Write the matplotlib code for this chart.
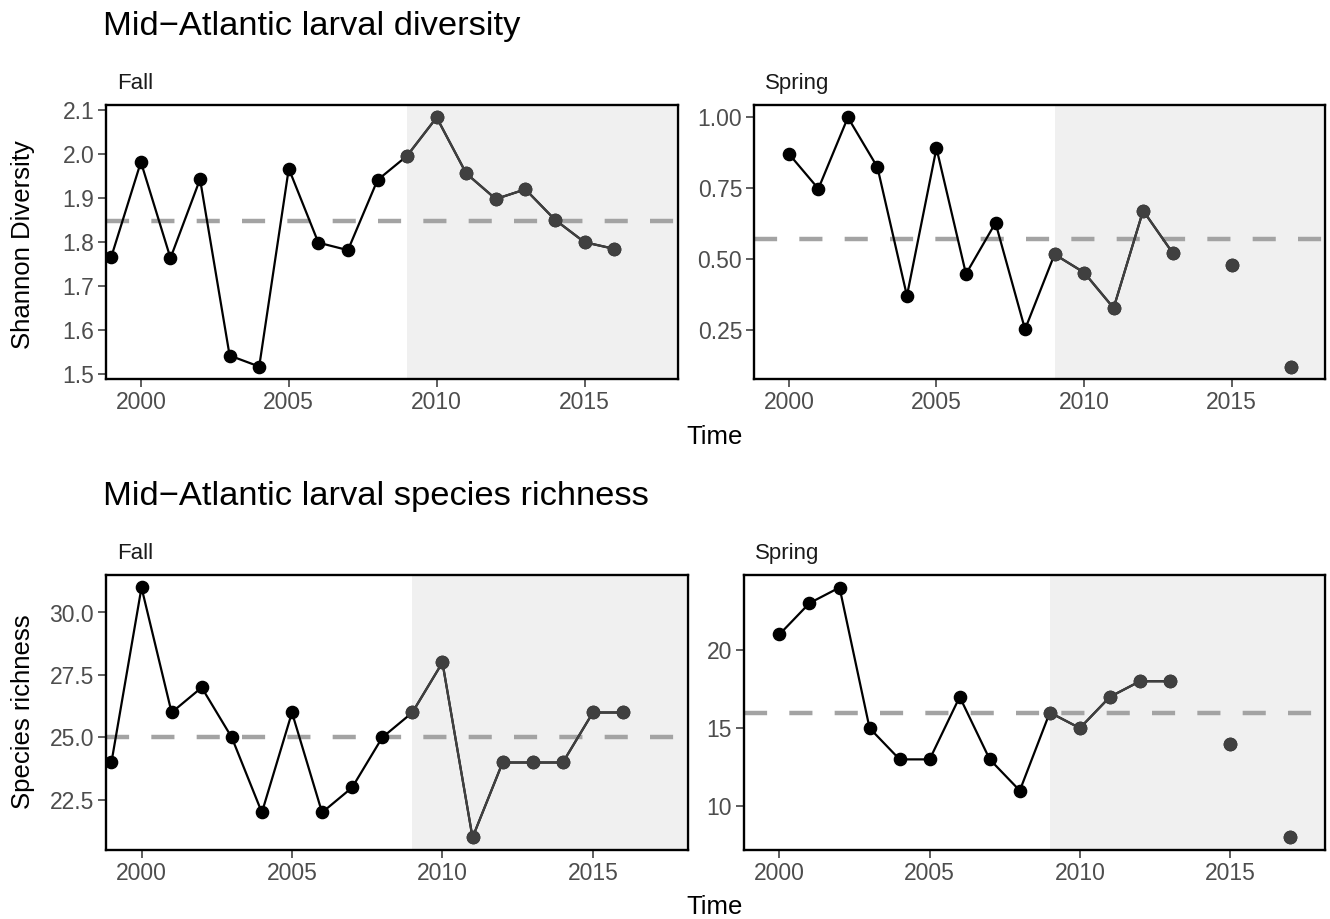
import numpy as np
import matplotlib
matplotlib.use("Agg")
import matplotlib.pyplot as plt

plt.rcParams['font.family'] = ['Liberation Sans', 'DejaVu Sans']

# data
years_fall = list(range(1999, 2017))
div_fall = [1.766, 1.981, 1.763, 1.942, 1.542, 1.517, 1.966, 1.798, 1.781,
            1.940, 1.995, 2.082, 1.955, 1.897, 1.919, 1.850, 1.799, 1.784]
rich_fall = [24, 31, 26, 27, 25, 22, 26, 22, 23, 25, 26, 28, 21, 24, 24, 24, 26, 26]

years_spring = list(range(2000, 2018))
div_spring = [0.871, 0.748, 0.999, 0.824, 0.371, 0.891, 0.448, 0.628, 0.253,
              0.517, 0.453, 0.328, 0.671, 0.522, np.nan, 0.479, np.nan, 0.122]
rich_spring = [21, 23, 24, 15, 13, 13, 17, 13, 11, 16, 15, 17, 18, 18,
               np.nan, 14, np.nan, 8]

div_mean = {'Fall': 1.848, 'Spring': 0.571}
rich_mean = {'Fall': 25.0, 'Spring': 16.0}

div_ticks = {'Fall': ([1.5, 1.6, 1.7, 1.8, 1.9, 2.0, 2.1],
                      ['1.5', '1.6', '1.7', '1.8', '1.9', '2.0', '2.1']),
             'Spring': ([0.25, 0.50, 0.75, 1.00], ['0.25', '0.50', '0.75', '1.00'])}
rich_ticks = {'Fall': ([22.5, 25.0, 27.5, 30.0], ['22.5', '25.0', '27.5', '30.0']),
              'Spring': ([10, 15, 20], ['10', '15', '20'])}

W, H = 1330, 919
fig = plt.figure(figsize=(W / 100, H / 100), dpi=100)


def px_axes(l, r, t, b):
    return fig.add_axes([l / W, 1 - b / H, (r - l) / W, (b - t) / H])


def panel(ax, x, y, mean, ticks, label, strip_y):
    x = np.array(x, dtype=float)
    y = np.array(y, dtype=float)
    ax.axvspan(2009, 2018.1, color='#f0f0f0', lw=0, zorder=0)
    ax.axhline(mean, color='#a3a3a3', lw=3.2, dashes=(5.2, 5.0), zorder=1)
    ax.plot(x, y, color='black', lw=1.6, zorder=2)
    ax.plot(x, y, 'o', color='black', ms=8.8, zorder=3)
    rec = x >= 2009
    ax.plot(x[rec], y[rec], color='#404040', lw=1.6, zorder=4)
    ax.plot(x[rec], y[rec], 'o', color='#404040', ms=8.8, zorder=5)
    ax.set_xlim(1998.82, 2018.16)
    lo, hi = np.nanmin(y), np.nanmax(y)
    pad = (hi - lo) * 0.05
    ax.set_ylim(lo - pad, hi + pad)
    ax.set_xticks([2000, 2005, 2010, 2015])
    ax.set_yticks(ticks[0])
    ax.set_yticklabels(ticks[1])
    ax.tick_params(labelsize=16.5, labelcolor='#4d4d4d', color='#333333',
                   length=5.5, width=1.1, pad=3)
    for s in ax.spines.values():
        s.set_linewidth(1.7)
        s.set_color('black')
    l = ax.get_position().x0 * W
    fig.text((l + 11) / W, 1 - strip_y / H, label, fontsize=16,
             color='#1a1a1a', va='baseline', ha='left')


# top row
ax1 = px_axes(106, 678, 105, 379)
panel(ax1, years_fall, div_fall, div_mean['Fall'], div_ticks['Fall'], 'Fall', 89)
ax2 = px_axes(754, 1325, 105, 379)
panel(ax2, years_spring, div_spring, div_mean['Spring'], div_ticks['Spring'], 'Spring', 89)

# bottom row
ax3 = px_axes(106, 688, 575, 850)
panel(ax3, years_fall, rich_fall, rich_mean['Fall'], rich_ticks['Fall'], 'Fall', 559)
ax4 = px_axes(744, 1325, 575, 850)
panel(ax4, years_spring, rich_spring, rich_mean['Spring'], rich_ticks['Spring'], 'Spring', 559)

fig.text(103 / W, 1 - 35 / H, 'Mid\u2212Atlantic larval diversity', fontsize=24.8,
         ha='left', va='baseline')
fig.text(103 / W, 1 - 505 / H, 'Mid\u2212Atlantic larval species richness', fontsize=24.8,
         ha='left', va='baseline')

fig.text(715 / W, 1 - 444 / H, 'Time', fontsize=18.5, ha='center', va='baseline')
fig.text(715 / W, 1 - 914 / H, 'Time', fontsize=18.5, ha='center', va='baseline')

fig.text(23 / W, 1 - 245 / H, 'Shannon Diversity', fontsize=18.5, rotation=90,
         ha='center', va='center')
fig.text(23 / W, 1 - 712 / H, 'Species richness', fontsize=18.5, rotation=90,
         ha='center', va='center')

fig.savefig('out.png', dpi=100)
